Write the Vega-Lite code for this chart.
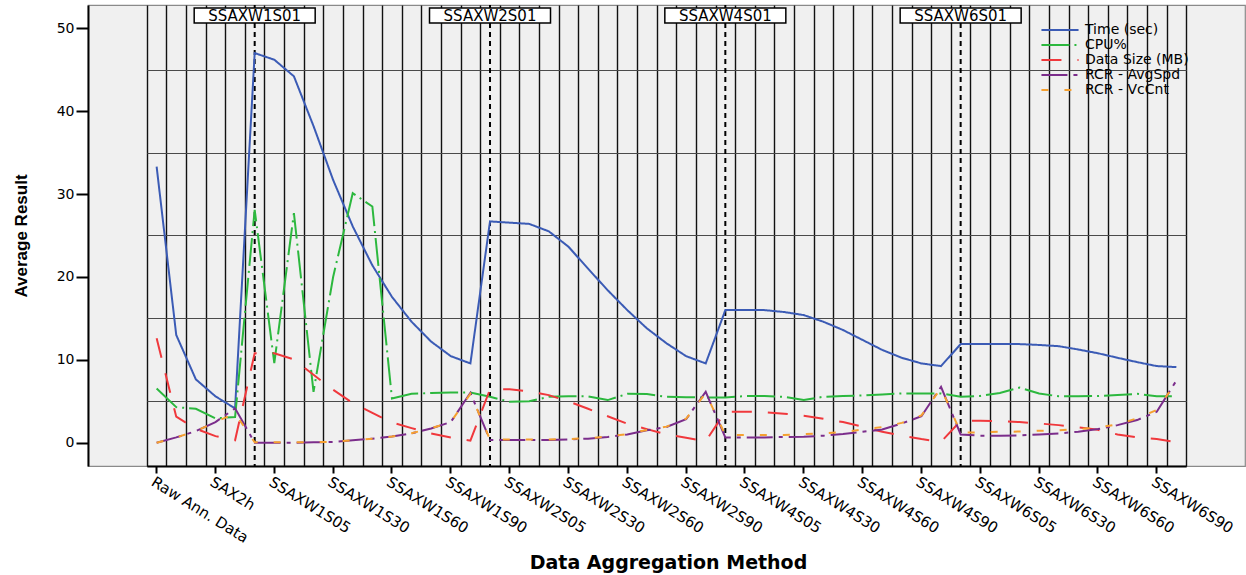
{
  "$schema": "https://vega.github.io/schema/vega-lite/v6.json",
  "width": 1157,
  "height": 461,
  "autosize": {"type": "none"},
  "padding": {"left": 88, "top": 5, "right": 1, "bottom": 109},
  "background": "white",
  "config": {
    "view": {"fill": "#f0f0f0", "stroke": "#8a8a8a", "strokeWidth": 1.2},
    "font": "DejaVu Sans"
  },
  "datasets": {
    "refs": [
      {"cat": "SSAXW1S01"},
      {"cat": "SSAXW2S01"},
      {"cat": "SSAXW4S01"},
      {"cat": "SSAXW6S01"}
    ],
    "series": [
      {"cat": "Raw Ann. Data", "series": "Time (sec)", "value": 33.3},
      {"cat": "SAX15m", "series": "Time (sec)", "value": 13.0},
      {"cat": "SAX1h", "series": "Time (sec)", "value": 7.65},
      {"cat": "SAX2h", "series": "Time (sec)", "value": 5.6},
      {"cat": "SAX4h", "series": "Time (sec)", "value": 4.15},
      {"cat": "SSAXW1S01", "series": "Time (sec)", "value": 47.0},
      {"cat": "SSAXW1S05", "series": "Time (sec)", "value": 46.2},
      {"cat": "SSAXW1S10", "series": "Time (sec)", "value": 44.2},
      {"cat": "SSAXW1S20", "series": "Time (sec)", "value": 38.2},
      {"cat": "SSAXW1S30", "series": "Time (sec)", "value": 31.7},
      {"cat": "SSAXW1S40", "series": "Time (sec)", "value": 26.1},
      {"cat": "SSAXW1S50", "series": "Time (sec)", "value": 21.4},
      {"cat": "SSAXW1S60", "series": "Time (sec)", "value": 17.6},
      {"cat": "SSAXW1S70", "series": "Time (sec)", "value": 14.6},
      {"cat": "SSAXW1S80", "series": "Time (sec)", "value": 12.2},
      {"cat": "SSAXW1S90", "series": "Time (sec)", "value": 10.45},
      {"cat": "SSAXW1S99", "series": "Time (sec)", "value": 9.57},
      {"cat": "SSAXW2S01", "series": "Time (sec)", "value": 26.7},
      {"cat": "SSAXW2S05", "series": "Time (sec)", "value": 26.55},
      {"cat": "SSAXW2S10", "series": "Time (sec)", "value": 26.4},
      {"cat": "SSAXW2S20", "series": "Time (sec)", "value": 25.5},
      {"cat": "SSAXW2S30", "series": "Time (sec)", "value": 23.65},
      {"cat": "SSAXW2S40", "series": "Time (sec)", "value": 21.0},
      {"cat": "SSAXW2S50", "series": "Time (sec)", "value": 18.4},
      {"cat": "SSAXW2S60", "series": "Time (sec)", "value": 16.0},
      {"cat": "SSAXW2S70", "series": "Time (sec)", "value": 13.8},
      {"cat": "SSAXW2S80", "series": "Time (sec)", "value": 12.0},
      {"cat": "SSAXW2S90", "series": "Time (sec)", "value": 10.45},
      {"cat": "SSAXW2S99", "series": "Time (sec)", "value": 9.57},
      {"cat": "SSAXW4S01", "series": "Time (sec)", "value": 16.0},
      {"cat": "SSAXW4S05", "series": "Time (sec)", "value": 16.0},
      {"cat": "SSAXW4S10", "series": "Time (sec)", "value": 16.0},
      {"cat": "SSAXW4S20", "series": "Time (sec)", "value": 15.77},
      {"cat": "SSAXW4S30", "series": "Time (sec)", "value": 15.4},
      {"cat": "SSAXW4S40", "series": "Time (sec)", "value": 14.6},
      {"cat": "SSAXW4S50", "series": "Time (sec)", "value": 13.6},
      {"cat": "SSAXW4S60", "series": "Time (sec)", "value": 12.4},
      {"cat": "SSAXW4S70", "series": "Time (sec)", "value": 11.2},
      {"cat": "SSAXW4S80", "series": "Time (sec)", "value": 10.25},
      {"cat": "SSAXW4S90", "series": "Time (sec)", "value": 9.57},
      {"cat": "SSAXW4S99", "series": "Time (sec)", "value": 9.25},
      {"cat": "SSAXW6S01", "series": "Time (sec)", "value": 11.9},
      {"cat": "SSAXW6S05", "series": "Time (sec)", "value": 11.9},
      {"cat": "SSAXW6S10", "series": "Time (sec)", "value": 11.9},
      {"cat": "SSAXW6S20", "series": "Time (sec)", "value": 11.9},
      {"cat": "SSAXW6S30", "series": "Time (sec)", "value": 11.8},
      {"cat": "SSAXW6S40", "series": "Time (sec)", "value": 11.65},
      {"cat": "SSAXW6S50", "series": "Time (sec)", "value": 11.25},
      {"cat": "SSAXW6S60", "series": "Time (sec)", "value": 10.8},
      {"cat": "SSAXW6S70", "series": "Time (sec)", "value": 10.25},
      {"cat": "SSAXW6S80", "series": "Time (sec)", "value": 9.73},
      {"cat": "SSAXW6S90", "series": "Time (sec)", "value": 9.25},
      {"cat": "SSAXW6S99", "series": "Time (sec)", "value": 9.13},

      {"cat": "Raw Ann. Data", "series": "CPU%", "value": 6.55},
      {"cat": "SAX15m", "series": "CPU%", "value": 4.3},
      {"cat": "SAX1h", "series": "CPU%", "value": 4.1},
      {"cat": "SAX2h", "series": "CPU%", "value": 2.95},
      {"cat": "SAX4h", "series": "CPU%", "value": 3.1},
      {"cat": "SSAXW1S01", "series": "CPU%", "value": 28.1},
      {"cat": "SSAXW1S05", "series": "CPU%", "value": 9.6},
      {"cat": "SSAXW1S10", "series": "CPU%", "value": 27.7},
      {"cat": "SSAXW1S20", "series": "CPU%", "value": 6.15},
      {"cat": "SSAXW1S30", "series": "CPU%", "value": 20.0},
      {"cat": "SSAXW1S40", "series": "CPU%", "value": 30.1},
      {"cat": "SSAXW1S50", "series": "CPU%", "value": 28.5},
      {"cat": "SSAXW1S60", "series": "CPU%", "value": 5.35},
      {"cat": "SSAXW1S70", "series": "CPU%", "value": 5.9},
      {"cat": "SSAXW1S80", "series": "CPU%", "value": 6.0},
      {"cat": "SSAXW1S90", "series": "CPU%", "value": 6.05},
      {"cat": "SSAXW1S99", "series": "CPU%", "value": 6.05},
      {"cat": "SSAXW2S01", "series": "CPU%", "value": 5.55},
      {"cat": "SSAXW2S05", "series": "CPU%", "value": 4.95},
      {"cat": "SSAXW2S10", "series": "CPU%", "value": 5.0},
      {"cat": "SSAXW2S20", "series": "CPU%", "value": 5.55},
      {"cat": "SSAXW2S30", "series": "CPU%", "value": 5.6},
      {"cat": "SSAXW2S40", "series": "CPU%", "value": 5.6},
      {"cat": "SSAXW2S50", "series": "CPU%", "value": 5.15},
      {"cat": "SSAXW2S60", "series": "CPU%", "value": 5.9},
      {"cat": "SSAXW2S70", "series": "CPU%", "value": 5.87},
      {"cat": "SSAXW2S80", "series": "CPU%", "value": 5.55},
      {"cat": "SSAXW2S90", "series": "CPU%", "value": 5.5},
      {"cat": "SSAXW2S99", "series": "CPU%", "value": 5.45},
      {"cat": "SSAXW4S01", "series": "CPU%", "value": 5.47},
      {"cat": "SSAXW4S05", "series": "CPU%", "value": 5.63},
      {"cat": "SSAXW4S10", "series": "CPU%", "value": 5.63},
      {"cat": "SSAXW4S20", "series": "CPU%", "value": 5.55},
      {"cat": "SSAXW4S30", "series": "CPU%", "value": 5.15},
      {"cat": "SSAXW4S40", "series": "CPU%", "value": 5.55},
      {"cat": "SSAXW4S50", "series": "CPU%", "value": 5.63},
      {"cat": "SSAXW4S60", "series": "CPU%", "value": 5.7},
      {"cat": "SSAXW4S70", "series": "CPU%", "value": 5.83},
      {"cat": "SSAXW4S80", "series": "CPU%", "value": 5.95},
      {"cat": "SSAXW4S90", "series": "CPU%", "value": 5.95},
      {"cat": "SSAXW4S99", "series": "CPU%", "value": 5.95},
      {"cat": "SSAXW6S01", "series": "CPU%", "value": 5.55},
      {"cat": "SSAXW6S05", "series": "CPU%", "value": 5.65},
      {"cat": "SSAXW6S10", "series": "CPU%", "value": 6.0},
      {"cat": "SSAXW6S20", "series": "CPU%", "value": 6.65},
      {"cat": "SSAXW6S30", "series": "CPU%", "value": 5.95},
      {"cat": "SSAXW6S40", "series": "CPU%", "value": 5.6},
      {"cat": "SSAXW6S50", "series": "CPU%", "value": 5.6},
      {"cat": "SSAXW6S60", "series": "CPU%", "value": 5.65},
      {"cat": "SSAXW6S70", "series": "CPU%", "value": 5.75},
      {"cat": "SSAXW6S80", "series": "CPU%", "value": 5.9},
      {"cat": "SSAXW6S90", "series": "CPU%", "value": 5.6},
      {"cat": "SSAXW6S99", "series": "CPU%", "value": 5.6},

      {"cat": "Raw Ann. Data", "series": "Data Size (MB)", "value": 12.6},
      {"cat": "SAX15m", "series": "Data Size (MB)", "value": 3.15},
      {"cat": "SAX1h", "series": "Data Size (MB)", "value": 1.7},
      {"cat": "SAX2h", "series": "Data Size (MB)", "value": 0.8},
      {"cat": "SAX4h", "series": "Data Size (MB)", "value": 0.3},
      {"cat": "SSAXW1S01", "series": "Data Size (MB)", "value": 10.8},
      {"cat": "SSAXW1S05", "series": "Data Size (MB)", "value": 10.8},
      {"cat": "SSAXW1S10", "series": "Data Size (MB)", "value": 10.05},
      {"cat": "SSAXW1S20", "series": "Data Size (MB)", "value": 8.2},
      {"cat": "SSAXW1S30", "series": "Data Size (MB)", "value": 6.4},
      {"cat": "SSAXW1S40", "series": "Data Size (MB)", "value": 4.8},
      {"cat": "SSAXW1S50", "series": "Data Size (MB)", "value": 3.6},
      {"cat": "SSAXW1S60", "series": "Data Size (MB)", "value": 2.45},
      {"cat": "SSAXW1S70", "series": "Data Size (MB)", "value": 1.77},
      {"cat": "SSAXW1S80", "series": "Data Size (MB)", "value": 1.13},
      {"cat": "SSAXW1S90", "series": "Data Size (MB)", "value": 0.65},
      {"cat": "SSAXW1S99", "series": "Data Size (MB)", "value": 0.25},
      {"cat": "SSAXW2S01", "series": "Data Size (MB)", "value": 6.45},
      {"cat": "SSAXW2S05", "series": "Data Size (MB)", "value": 6.45},
      {"cat": "SSAXW2S10", "series": "Data Size (MB)", "value": 6.2},
      {"cat": "SSAXW2S20", "series": "Data Size (MB)", "value": 5.75},
      {"cat": "SSAXW2S30", "series": "Data Size (MB)", "value": 5.0},
      {"cat": "SSAXW2S40", "series": "Data Size (MB)", "value": 4.1},
      {"cat": "SSAXW2S50", "series": "Data Size (MB)", "value": 3.2},
      {"cat": "SSAXW2S60", "series": "Data Size (MB)", "value": 2.3},
      {"cat": "SSAXW2S70", "series": "Data Size (MB)", "value": 1.65},
      {"cat": "SSAXW2S80", "series": "Data Size (MB)", "value": 1.0},
      {"cat": "SSAXW2S90", "series": "Data Size (MB)", "value": 0.6},
      {"cat": "SSAXW2S99", "series": "Data Size (MB)", "value": 0.2},
      {"cat": "SSAXW4S01", "series": "Data Size (MB)", "value": 3.75},
      {"cat": "SSAXW4S05", "series": "Data Size (MB)", "value": 3.75},
      {"cat": "SSAXW4S10", "series": "Data Size (MB)", "value": 3.7},
      {"cat": "SSAXW4S20", "series": "Data Size (MB)", "value": 3.5},
      {"cat": "SSAXW4S30", "series": "Data Size (MB)", "value": 3.27},
      {"cat": "SSAXW4S40", "series": "Data Size (MB)", "value": 2.9},
      {"cat": "SSAXW4S50", "series": "Data Size (MB)", "value": 2.5},
      {"cat": "SSAXW4S60", "series": "Data Size (MB)", "value": 1.93},
      {"cat": "SSAXW4S70", "series": "Data Size (MB)", "value": 1.33},
      {"cat": "SSAXW4S80", "series": "Data Size (MB)", "value": 0.85},
      {"cat": "SSAXW4S90", "series": "Data Size (MB)", "value": 0.45},
      {"cat": "SSAXW4S99", "series": "Data Size (MB)", "value": 0.12},
      {"cat": "SSAXW6S01", "series": "Data Size (MB)", "value": 2.65},
      {"cat": "SSAXW6S05", "series": "Data Size (MB)", "value": 2.65},
      {"cat": "SSAXW6S10", "series": "Data Size (MB)", "value": 2.6},
      {"cat": "SSAXW6S20", "series": "Data Size (MB)", "value": 2.5},
      {"cat": "SSAXW6S30", "series": "Data Size (MB)", "value": 2.33},
      {"cat": "SSAXW6S40", "series": "Data Size (MB)", "value": 2.13},
      {"cat": "SSAXW6S50", "series": "Data Size (MB)", "value": 1.85},
      {"cat": "SSAXW6S60", "series": "Data Size (MB)", "value": 1.57},
      {"cat": "SSAXW6S70", "series": "Data Size (MB)", "value": 1.0},
      {"cat": "SSAXW6S80", "series": "Data Size (MB)", "value": 0.65},
      {"cat": "SSAXW6S90", "series": "Data Size (MB)", "value": 0.45},
      {"cat": "SSAXW6S99", "series": "Data Size (MB)", "value": 0.08},

      {"cat": "Raw Ann. Data", "series": "RCR - AvgSpd", "value": 0.0},
      {"cat": "SAX15m", "series": "RCR - AvgSpd", "value": 0.65},
      {"cat": "SAX1h", "series": "RCR - AvgSpd", "value": 1.4},
      {"cat": "SAX2h", "series": "RCR - AvgSpd", "value": 2.5},
      {"cat": "SAX4h", "series": "RCR - AvgSpd", "value": 4.15},
      {"cat": "SSAXW1S01", "series": "RCR - AvgSpd", "value": 0.0},
      {"cat": "SSAXW1S05", "series": "RCR - AvgSpd", "value": 0.0},
      {"cat": "SSAXW1S10", "series": "RCR - AvgSpd", "value": 0.0},
      {"cat": "SSAXW1S20", "series": "RCR - AvgSpd", "value": 0.05},
      {"cat": "SSAXW1S30", "series": "RCR - AvgSpd", "value": 0.1},
      {"cat": "SSAXW1S40", "series": "RCR - AvgSpd", "value": 0.3},
      {"cat": "SSAXW1S50", "series": "RCR - AvgSpd", "value": 0.5},
      {"cat": "SSAXW1S60", "series": "RCR - AvgSpd", "value": 0.75},
      {"cat": "SSAXW1S70", "series": "RCR - AvgSpd", "value": 1.13},
      {"cat": "SSAXW1S80", "series": "RCR - AvgSpd", "value": 1.73},
      {"cat": "SSAXW1S90", "series": "RCR - AvgSpd", "value": 2.5},
      {"cat": "SSAXW1S99", "series": "RCR - AvgSpd", "value": 6.03},
      {"cat": "SSAXW2S01", "series": "RCR - AvgSpd", "value": 0.33},
      {"cat": "SSAXW2S05", "series": "RCR - AvgSpd", "value": 0.33},
      {"cat": "SSAXW2S10", "series": "RCR - AvgSpd", "value": 0.33},
      {"cat": "SSAXW2S20", "series": "RCR - AvgSpd", "value": 0.33},
      {"cat": "SSAXW2S30", "series": "RCR - AvgSpd", "value": 0.4},
      {"cat": "SSAXW2S40", "series": "RCR - AvgSpd", "value": 0.5},
      {"cat": "SSAXW2S50", "series": "RCR - AvgSpd", "value": 0.7},
      {"cat": "SSAXW2S60", "series": "RCR - AvgSpd", "value": 1.0},
      {"cat": "SSAXW2S70", "series": "RCR - AvgSpd", "value": 1.5},
      {"cat": "SSAXW2S80", "series": "RCR - AvgSpd", "value": 1.9},
      {"cat": "SSAXW2S90", "series": "RCR - AvgSpd", "value": 2.85},
      {"cat": "SSAXW2S99", "series": "RCR - AvgSpd", "value": 6.15},
      {"cat": "SSAXW4S01", "series": "RCR - AvgSpd", "value": 0.65},
      {"cat": "SSAXW4S05", "series": "RCR - AvgSpd", "value": 0.65},
      {"cat": "SSAXW4S10", "series": "RCR - AvgSpd", "value": 0.65},
      {"cat": "SSAXW4S20", "series": "RCR - AvgSpd", "value": 0.7},
      {"cat": "SSAXW4S30", "series": "RCR - AvgSpd", "value": 0.73},
      {"cat": "SSAXW4S40", "series": "RCR - AvgSpd", "value": 0.85},
      {"cat": "SSAXW4S50", "series": "RCR - AvgSpd", "value": 1.05},
      {"cat": "SSAXW4S60", "series": "RCR - AvgSpd", "value": 1.33},
      {"cat": "SSAXW4S70", "series": "RCR - AvgSpd", "value": 1.6},
      {"cat": "SSAXW4S80", "series": "RCR - AvgSpd", "value": 2.33},
      {"cat": "SSAXW4S90", "series": "RCR - AvgSpd", "value": 3.2},
      {"cat": "SSAXW4S99", "series": "RCR - AvgSpd", "value": 6.75},
      {"cat": "SSAXW6S01", "series": "RCR - AvgSpd", "value": 1.0},
      {"cat": "SSAXW6S05", "series": "RCR - AvgSpd", "value": 0.85},
      {"cat": "SSAXW6S10", "series": "RCR - AvgSpd", "value": 0.85},
      {"cat": "SSAXW6S20", "series": "RCR - AvgSpd", "value": 0.9},
      {"cat": "SSAXW6S30", "series": "RCR - AvgSpd", "value": 1.0},
      {"cat": "SSAXW6S40", "series": "RCR - AvgSpd", "value": 1.13},
      {"cat": "SSAXW6S50", "series": "RCR - AvgSpd", "value": 1.33},
      {"cat": "SSAXW6S60", "series": "RCR - AvgSpd", "value": 1.65},
      {"cat": "SSAXW6S70", "series": "RCR - AvgSpd", "value": 2.13},
      {"cat": "SSAXW6S80", "series": "RCR - AvgSpd", "value": 2.74},
      {"cat": "SSAXW6S90", "series": "RCR - AvgSpd", "value": 3.75},
      {"cat": "SSAXW6S99", "series": "RCR - AvgSpd", "value": 7.5},

      {"cat": "Raw Ann. Data", "series": "RCR - VcCnt", "value": 0.0},
      {"cat": "SAX15m", "series": "RCR - VcCnt", "value": 0.65},
      {"cat": "SAX1h", "series": "RCR - VcCnt", "value": 1.4},
      {"cat": "SAX2h", "series": "RCR - VcCnt", "value": 2.5},
      {"cat": "SAX4h", "series": "RCR - VcCnt", "value": 3.55},
      {"cat": "SSAXW1S01", "series": "RCR - VcCnt", "value": 0.05},
      {"cat": "SSAXW1S05", "series": "RCR - VcCnt", "value": 0.05},
      {"cat": "SSAXW1S10", "series": "RCR - VcCnt", "value": 0.05},
      {"cat": "SSAXW1S20", "series": "RCR - VcCnt", "value": 0.08},
      {"cat": "SSAXW1S30", "series": "RCR - VcCnt", "value": 0.12},
      {"cat": "SSAXW1S40", "series": "RCR - VcCnt", "value": 0.3},
      {"cat": "SSAXW1S50", "series": "RCR - VcCnt", "value": 0.5},
      {"cat": "SSAXW1S60", "series": "RCR - VcCnt", "value": 0.75},
      {"cat": "SSAXW1S70", "series": "RCR - VcCnt", "value": 1.15},
      {"cat": "SSAXW1S80", "series": "RCR - VcCnt", "value": 1.75},
      {"cat": "SSAXW1S90", "series": "RCR - VcCnt", "value": 2.5},
      {"cat": "SSAXW1S99", "series": "RCR - VcCnt", "value": 5.9},
      {"cat": "SSAXW2S01", "series": "RCR - VcCnt", "value": 0.4},
      {"cat": "SSAXW2S05", "series": "RCR - VcCnt", "value": 0.4},
      {"cat": "SSAXW2S10", "series": "RCR - VcCnt", "value": 0.4},
      {"cat": "SSAXW2S20", "series": "RCR - VcCnt", "value": 0.4},
      {"cat": "SSAXW2S30", "series": "RCR - VcCnt", "value": 0.45},
      {"cat": "SSAXW2S40", "series": "RCR - VcCnt", "value": 0.55},
      {"cat": "SSAXW2S50", "series": "RCR - VcCnt", "value": 0.75},
      {"cat": "SSAXW2S60", "series": "RCR - VcCnt", "value": 1.05},
      {"cat": "SSAXW2S70", "series": "RCR - VcCnt", "value": 1.55},
      {"cat": "SSAXW2S80", "series": "RCR - VcCnt", "value": 1.95},
      {"cat": "SSAXW2S90", "series": "RCR - VcCnt", "value": 2.9},
      {"cat": "SSAXW2S99", "series": "RCR - VcCnt", "value": 6.0},
      {"cat": "SSAXW4S01", "series": "RCR - VcCnt", "value": 0.93},
      {"cat": "SSAXW4S05", "series": "RCR - VcCnt", "value": 0.93},
      {"cat": "SSAXW4S10", "series": "RCR - VcCnt", "value": 0.93},
      {"cat": "SSAXW4S20", "series": "RCR - VcCnt", "value": 0.95},
      {"cat": "SSAXW4S30", "series": "RCR - VcCnt", "value": 1.05},
      {"cat": "SSAXW4S40", "series": "RCR - VcCnt", "value": 1.15},
      {"cat": "SSAXW4S50", "series": "RCR - VcCnt", "value": 1.3},
      {"cat": "SSAXW4S60", "series": "RCR - VcCnt", "value": 1.6},
      {"cat": "SSAXW4S70", "series": "RCR - VcCnt", "value": 1.9},
      {"cat": "SSAXW4S80", "series": "RCR - VcCnt", "value": 2.4},
      {"cat": "SSAXW4S90", "series": "RCR - VcCnt", "value": 3.3},
      {"cat": "SSAXW4S99", "series": "RCR - VcCnt", "value": 6.6},
      {"cat": "SSAXW6S01", "series": "RCR - VcCnt", "value": 1.25},
      {"cat": "SSAXW6S05", "series": "RCR - VcCnt", "value": 1.25},
      {"cat": "SSAXW6S10", "series": "RCR - VcCnt", "value": 1.33},
      {"cat": "SSAXW6S20", "series": "RCR - VcCnt", "value": 1.35},
      {"cat": "SSAXW6S30", "series": "RCR - VcCnt", "value": 1.45},
      {"cat": "SSAXW6S40", "series": "RCR - VcCnt", "value": 1.5},
      {"cat": "SSAXW6S50", "series": "RCR - VcCnt", "value": 1.65},
      {"cat": "SSAXW6S60", "series": "RCR - VcCnt", "value": 1.85},
      {"cat": "SSAXW6S70", "series": "RCR - VcCnt", "value": 2.2},
      {"cat": "SSAXW6S80", "series": "RCR - VcCnt", "value": 2.95},
      {"cat": "SSAXW6S90", "series": "RCR - VcCnt", "value": 3.95},
      {"cat": "SSAXW6S99", "series": "RCR - VcCnt", "value": 7.35}
    ]
  },
  "layer": [
    {
      "data": {"name": "refs"},
      "mark": {"type": "rule", "color": "#000000", "strokeWidth": 2, "strokeDash": [5, 4]},
      "encoding": {
        "x": {
          "field": "cat",
          "type": "ordinal",
          "scale": {"type": "band", "paddingInner": 0, "paddingOuter": 0, "range": [58.83, 1098.17]},
          "axis": {
            "orient": "bottom",
            "tickBand": "extent",
            "grid": true,
            "gridColor": "#111111",
            "gridWidth": 1.4,
            "labels": false,
            "ticks": false,
            "domain": false,
            "title": null
          }
        }
      }
    },
    {
      "data": {"name": "series"},
      "mark": {"type": "line", "strokeWidth": 2, "strokeCap": "butt", "interpolate": "linear"},
      "encoding": {
        "x": {
          "field": "cat",
          "type": "ordinal",
          "axis": {
            "orient": "bottom",
            "values": ["Raw Ann. Data", "SAX2h", "SSAXW1S05", "SSAXW1S30", "SSAXW1S60", "SSAXW1S90", "SSAXW2S05", "SSAXW2S30", "SSAXW2S60", "SSAXW2S90", "SSAXW4S05", "SSAXW4S30", "SSAXW4S60", "SSAXW4S90", "SSAXW6S05", "SSAXW6S30", "SSAXW6S60", "SSAXW6S90"],
            "grid": false,
            "domain": true,
            "domainColor": "#000000",
            "domainWidth": 2,
            "ticks": true,
            "tickSize": 7,
            "tickWidth": 2,
            "tickColor": "#000000",
            "labelAngle": 32,
            "labelAlign": "left",
            "labelBaseline": "top",
            "labelFont": "DejaVu Sans",
            "labelFontSize": 15,
            "labelColor": "#000000",
            "labelPadding": 1,
            "labelOverlap": false,
            "labelBound": false,
            "labelLimit": 0,
            "title": "Data Aggregation Method",
            "titleFont": "DejaVu Sans",
            "titleFontSize": 19,
            "titleFontWeight": "bold",
            "titleColor": "#000000",
            "titleX": 580,
            "titleY": 96,
            "titleAlign": "center",
            "titleBaseline": "middle"
          }
        },
        "y": {
          "field": "value",
          "type": "quantitative",
          "scale": {"domain": [-2.8, 52.8], "nice": false, "zero": false},
          "axis": {
            "values": [0, 5, 10, 15, 20, 25, 30, 35, 40, 45, 50],
            "labelExpr": "datum.value % 10 === 0 ? datum.label : ''",
            "tickOpacity": {"condition": {"test": "datum.value % 10 === 0", "value": 1}, "value": 0},
            "gridOpacity": {"condition": {"test": "datum.value % 10 === 5", "value": 1}, "value": 0},
            "grid": true,
            "gridColor": "#4a4a4a",
            "gridWidth": 1.2,
            "domain": true,
            "domainColor": "#000000",
            "domainWidth": 2,
            "tickSize": 12,
            "tickWidth": 2,
            "tickColor": "#000000",
            "labelFont": "DejaVu Sans",
            "labelFontSize": 14,
            "labelColor": "#000000",
            "labelPadding": 2,
            "title": "Average Result",
            "titleFont": "'Liberation Sans Narrow', 'Liberation Sans', Arial, sans-serif",
            "titleFontSize": 17,
            "titleFontWeight": "bold",
            "titleColor": "#000000",
            "titleAngle": 270,
            "titleX": -67,
            "titleY": 230.5,
            "titleAlign": "center",
            "titleBaseline": "middle"
          }
        },
        "color": {
          "field": "series",
          "type": "nominal",
          "scale": {
            "domain": ["Time (sec)", "CPU%", "Data Size (MB)", "RCR - AvgSpd", "RCR - VcCnt"],
            "range": ["#3b5bb5", "#2cb83e", "#f0383c", "#7b2d8b", "#f5a030"]
          },
          "legend": {
            "title": null,
            "orient": "none",
            "legendX": 965,
            "legendY": 18,
            "padding": 0,
            "symbolType": "M-5.3,0H5.3",
            "symbolSize": 49,
            "symbolStrokeWidth": 2,
            "labelFont": "DejaVu Sans",
            "labelFontSize": 14,
            "labelColor": "#000000",
            "labelOffset": 18,
            "rowPadding": 1
          }
        },
        "strokeDash": {
          "field": "series",
          "type": "nominal",
          "scale": {
            "domain": ["Time (sec)", "CPU%", "Data Size (MB)", "RCR - AvgSpd", "RCR - VcCnt"],
            "range": [[1, 0], [28, 5, 2, 5], [20, 16], [26, 6, 4, 6], [7, 16]]
          },
          "legend": {
            "title": null,
            "orient": "none",
            "legendX": 965,
            "legendY": 18,
            "padding": 0,
            "symbolType": "M-5.3,0H5.3",
            "symbolSize": 49,
            "symbolStrokeWidth": 2,
            "labelFont": "DejaVu Sans",
            "labelFontSize": 14,
            "labelColor": "#000000",
            "labelOffset": 18,
            "rowPadding": 1
          }
        }
      }
    },
    {
      "data": {"name": "refs"},
      "mark": {"type": "bar", "width": 121, "fill": "#ffffff", "stroke": "#000000", "strokeWidth": 1.5},
      "encoding": {
        "x": {"field": "cat", "type": "ordinal", "axis": null},
        "y": {"datum": 52.44},
        "y2": {"datum": 50.63}
      }
    },
    {
      "data": {"name": "refs"},
      "mark": {"type": "text", "font": "DejaVu Sans", "fontSize": 15, "color": "#000000", "align": "center", "baseline": "middle"},
      "encoding": {
        "x": {"field": "cat", "type": "ordinal", "axis": null},
        "y": {"datum": 51.53},
        "text": {"field": "cat"}
      }
    }
  ],
  "resolve": {"axis": {"x": "independent"}}
}
